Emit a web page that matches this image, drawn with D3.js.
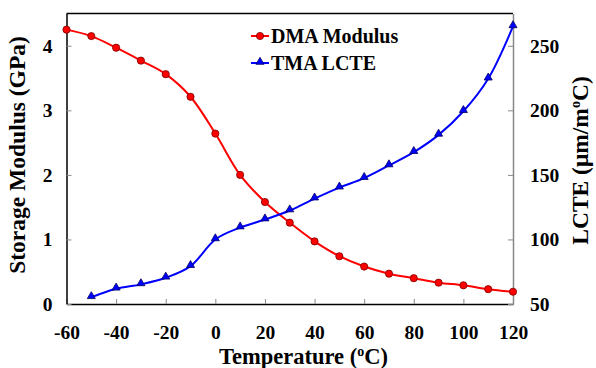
<!DOCTYPE html>
<html>
<head>
<meta charset="utf-8">
<script src="https://cdn.jsdelivr.net/npm/d3@7"></script>
<style>
  body { margin: 0; background: #fff; }
  svg text { font-family: "Times New Roman", "Liberation Serif", serif; font-weight: bold; fill: #000; }
</style>
</head>
<body>
<div class="chart"></div>
<script>
// data
const temps = [-60, -50, -40, -30, -20, -10, 0, 10, 20, 30, 40, 50, 60, 70, 80, 90, 100, 110, 120];
const dmaModulus = [4.25, 4.15, 3.97, 3.77, 3.56, 3.21, 2.64, 2.00, 1.58, 1.26, 0.97, 0.74, 0.58, 0.47, 0.40, 0.33, 0.29, 0.23, 0.19];
const lcteTemps = [-50, -40, -30, -20, -10, 0, 10, 20, 30, 40, 50, 60, 70, 80, 90, 100, 110, 120];
const tmaLcte = [55.2, 61.8, 65.2, 70.3, 79.3, 100, 109.2, 115.4, 122.4, 131.6, 140.1, 147.5, 157.3, 167.6, 181, 199.3, 224.5, 265];
const xTicks = [-60, -40, -20, 0, 20, 40, 60, 80, 100, 120];
const leftTicks = [0, 1, 2, 3, 4];
const rightTicks = [50, 100, 150, 200, 250];

const svg_width = 596, svg_height = 368;
const margin = {top: 13.5, right: 83, bottom: 64, left: 66.5};
const w = svg_width - margin.left - margin.right;
const h = svg_height - margin.top - margin.bottom;

const svg = d3.select('.chart').append('svg')
  .attr('width', svg_width).attr('height', svg_height);
const g = svg.append('g').attr('transform', `translate(${margin.left},${margin.top})`);

const x = d3.scaleLinear().domain([-60, 120]).range([0, w]);
const yL = d3.scaleLinear().domain([0, 4.5]).range([h, 0]);
const yR = d3.scaleLinear().domain([50, 275]).range([h, 0]);

// axes - plain hyphen for negatives like the original
const fmt = d => String(d);
const xAxis = d3.axisBottom(x).tickValues(xTicks).tickFormat(fmt).tickSizeInner(-5).tickSizeOuter(0);
const yAxisL = d3.axisLeft(yL).tickValues(leftTicks).tickFormat(fmt).tickSizeInner(-5).tickSizeOuter(0).tickPadding(14);
const yAxisR = d3.axisRight(yR).tickValues(rightTicks).tickFormat(fmt).tickSizeInner(-5).tickSizeOuter(0).tickPadding(17);

// top border
g.append('line').attr('x1', 0).attr('x2', w).attr('y1', 0).attr('y2', 0)
  .attr('stroke', '#000').attr('stroke-width', 1.5);

const gx = g.append('g').attr('transform', `translate(0,${h})`).call(xAxis);
const gl = g.append('g').call(yAxisL);
const gr = g.append('g').attr('transform', `translate(${w},0)`).call(yAxisR);

[gx, gl, gr].forEach(a => {
  a.attr('font-family', null).attr('font-size', null);
  a.selectAll('.tick line').attr('stroke', '#888').attr('stroke-width', 1);
  a.selectAll('text').style('font-size', '19.5px');
});
gx.select('.domain').attr('stroke', '#000').attr('stroke-width', 1.5);
gl.select('.domain').attr('stroke', '#000').attr('stroke-width', 1.5);
gr.select('.domain').attr('stroke', '#888').attr('stroke-width', 1.5);
gx.selectAll('text').attr('y', 35).attr('dy', 0);

// lines
const redLine = d3.line().x((d, i) => x(temps[i])).y(d => yL(d)).curve(d3.curveCatmullRom.alpha(0.5));
const blueLine = d3.line().x((d, i) => x(lcteTemps[i])).y(d => yR(d)).curve(d3.curveCatmullRom.alpha(0.5));

g.append('path').datum(dmaModulus).attr('d', redLine)
  .attr('fill', 'none').attr('stroke', '#ff0000').attr('stroke-width', 2);
g.append('path').datum(tmaLcte).attr('d', blueLine)
  .attr('fill', 'none').attr('stroke', '#0000ff').attr('stroke-width', 2);

const tri = d3.symbol().type(d3.symbolTriangle).size(28);

g.selectAll('.dma').data(dmaModulus).enter().append('circle').attr('class', 'dma')
  .attr('cx', (d, i) => x(temps[i])).attr('cy', d => yL(d)).attr('r', 3.6)
  .attr('fill', '#ff0000').attr('stroke', '#700').attr('stroke-width', 0.8);
g.selectAll('.tma').data(tmaLcte).enter().append('path').attr('class', 'tma')
  .attr('d', tri).attr('transform', (d, i) => `translate(${x(lcteTemps[i])},${yR(d) - 1})`)
  .attr('fill', '#0000ff').attr('stroke', '#000060').attr('stroke-width', 0.8);

// legend
const legend = svg.append('g').attr('transform', 'translate(251,36)');
legend.append('line').attr('x1', 0).attr('x2', 18).attr('y1', 0).attr('y2', 0).attr('stroke', '#ff0000').attr('stroke-width', 2);
legend.append('circle').attr('cx', 9).attr('cy', 0).attr('r', 3.6).attr('fill', '#ff0000').attr('stroke', '#700').attr('stroke-width', 0.8);
legend.append('text').attr('x', 20).attr('y', 7).style('font-size', '20px').text('DMA Modulus');
legend.append('line').attr('x1', 0).attr('x2', 18).attr('y1', 27).attr('y2', 27).attr('stroke', '#0000ff').attr('stroke-width', 2);
legend.append('path').attr('d', tri).attr('transform', 'translate(9,26)').attr('fill', '#0000ff').attr('stroke', '#000060').attr('stroke-width', 0.8);
legend.append('text').attr('x', 20).attr('y', 34).style('font-size', '20px').text('TMA LCTE');

// axis titles
const xt = svg.append('text').attr('x', 303.5).attr('y', 364)
  .attr('text-anchor', 'middle').style('font-size', '22.5px');
xt.append('tspan').text('Temperature (');
xt.append('tspan').text('o').style('font-size', '14px').attr('dy', '-8');
xt.append('tspan').text('C)').attr('dy', '8');

svg.append('text').attr('transform', 'translate(25,155) rotate(-90)')
  .attr('text-anchor', 'middle').style('font-size', '23.5px').text('Storage Modulus (GPa)');

const rt = svg.append('text').attr('transform', 'translate(587.5,160.5) rotate(-90)')
  .attr('text-anchor', 'middle').style('font-size', '23.5px');
rt.append('tspan').text('LCTE (μm/m');
rt.append('tspan').text('o').style('font-size', '14px').attr('dy', '-8');
rt.append('tspan').text('C)').attr('dy', '8');
</script>
</body>
</html>
